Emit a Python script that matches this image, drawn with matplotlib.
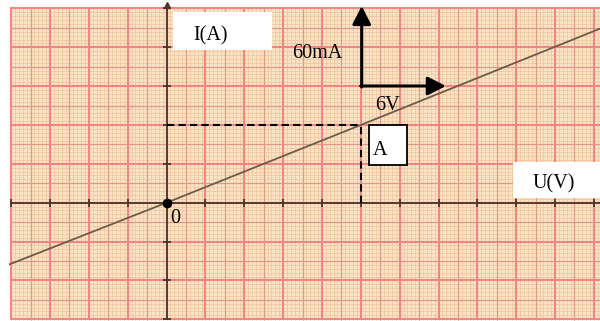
import matplotlib
matplotlib.use("Agg")
import matplotlib.pyplot as plt
import numpy as np
from matplotlib.patches import Rectangle
from matplotlib.transforms import Bbox, TransformedBbox

# scale: one big square = 3 V horizontally, 30 mA vertically
volt_per_div = 3.0
ma_per_div = 30.0

# characteristic (passes through the origin and A)
line_u = [-12.1, 0.0, 15.0, 33.5]
line_i = [-47.5, 0.0, 60.0, 134.5]

# point A and the scale arrows
point_a = (15.0, 60.0)
scale_u = 6.0
scale_i = 60.0
arrow_origin = (15.07, 90.1)

# paper extents (in V and mA)
paper_u = (-12.1, 33.6)
paper_i = (-90.6, 150.0)

fig = plt.figure(figsize=(6.0, 3.21), dpi=100)
ax = fig.add_axes([0, 0, 1, 1])
ax.set_xlim(-12.86, 33.47)
ax.set_ylim(-91.35, 156.5)
ax.axis('off')

bg = '#fbe3c6'
ax.add_patch(Rectangle((paper_u[0], paper_i[0]), paper_u[1] - paper_u[0],
                       paper_i[1] - paper_i[0], facecolor=bg, edgecolor='none', zorder=0))

# millimetre grid: fine, half and major lines
u0 = -4 * volt_per_div
i0 = -3 * ma_per_div
fine_u = np.arange(u0, paper_u[1] + 0.01, volt_per_div / 10)
fine_i = np.arange(i0, paper_i[1] + 0.01, ma_per_div / 10)
ax.vlines(fine_u, paper_i[0], paper_i[1], color='#f0c8a2', lw=0.6, zorder=1)
ax.hlines(fine_i, paper_u[0], paper_u[1], color='#f0c8a2', lw=0.6, zorder=1)
half_u = np.arange(u0 + volt_per_div / 2, paper_u[1], volt_per_div)
half_i = np.arange(i0 + ma_per_div / 2, paper_i[1], ma_per_div)
ax.vlines(half_u, paper_i[0], paper_i[1], color='#dc9a8c', lw=0.9, zorder=2)
ax.hlines(half_i, paper_u[0], paper_u[1], color='#dc9a8c', lw=0.9, zorder=2)
major_u = np.arange(u0, paper_u[1] + 0.01, volt_per_div)
major_i = np.arange(i0, paper_i[1] + 0.01, ma_per_div)
ax.vlines(major_u, paper_i[0], paper_i[1], color='#f58484', lw=1.5, zorder=3)
ax.hlines(major_i, paper_u[0], paper_u[1], color='#f58484', lw=1.5, zorder=3)

# axes of the graph
axis_col = '#4e3526'
ax.hlines(0, paper_u[0], paper_u[1], color=axis_col, lw=1.3, zorder=4)
ax.vlines(0, paper_i[0], paper_i[1] + 2.5, color=axis_col, lw=1.3, zorder=4)
ax.plot(0, paper_i[1] + 2.5, marker='^', ms=4, color=axis_col, zorder=4)
ax.plot(major_u, np.zeros_like(major_u), ls='none', marker='|', ms=6, color=axis_col, mew=1.3, zorder=4)
ax.plot(np.zeros_like(major_i), major_i, ls='none', marker='_', ms=6, color=axis_col, mew=1.3, zorder=4)

# characteristic
ax.plot(line_u, line_i, color='#6b5c48', lw=1.3, zorder=5)
ax.plot(0, 0, 'o', color='black', ms=6, zorder=6)

# projections of A
ax.plot([0, point_a[0]], [point_a[1], point_a[1]], ls=(0, (3.5, 2)), color='black', lw=1.5, zorder=5)
ax.plot([point_a[0], point_a[0]], [0, point_a[1]], ls=(0, (3.5, 2)), color='black', lw=1.5, zorder=5)

# scale arrows
head = dict(arrowstyle='-|>,head_length=0.55,head_width=0.28', color='black', lw=2.2,
            shrinkA=0, shrinkB=0, mutation_scale=20)
ax.annotate('', xy=(arrow_origin[0], arrow_origin[1] + scale_i + 1.8), xytext=(arrow_origin[0], arrow_origin[1] - 0.8),
            arrowprops=head, zorder=7, annotation_clip=False)
ax.annotate('', xy=(arrow_origin[0] + scale_u + 0.5, arrow_origin[1]), xytext=(arrow_origin[0] - 0.08, arrow_origin[1]),
            arrowprops=head, zorder=7)

serif = ['Liberation Serif', 'DejaVu Serif']
fs = 14.5
ax.text(9.67, 111.5, '60mA', family=serif, fontsize=fs, ha='left', va='baseline', zorder=8)
ax.text(16.1, 71.6, '6V', family=serif, fontsize=fs, ha='left', va='baseline', zorder=8)

# white label boxes (the axis names are cut off at their lower edge)
ax.add_patch(Rectangle((0.5, 117.9), 7.65, 29.5, facecolor='white', edgecolor='none', zorder=8))
t_i = ax.text(2.05, 125.3, 'I(A)', family=serif, fontsize=fs, ha='left', va='baseline', zorder=9)
t_i.set_clip_box(TransformedBbox(Bbox([[0.5, 124.0], [8.15, 150.0]]), ax.transData))
ax.add_patch(Rectangle((26.76, 3.8), 6.8, 28.0, facecolor='white', edgecolor='none', zorder=8))
t_u = ax.text(28.3, 11.0, 'U(V)', family=serif, fontsize=fs, ha='left', va='baseline', zorder=9)
t_u.set_clip_box(TransformedBbox(Bbox([[26.76, 10.6], [33.56, 31.8]]), ax.transData))
ax.add_patch(Rectangle((15.6, 29.0), 2.95, 31.0, facecolor='white', edgecolor='black', lw=1.3, zorder=8))
ax.text(15.9, 36.8, 'A', family=serif, fontsize=fs, ha='left', va='baseline', zorder=9)
ax.text(0.27, -15.7, '0', family=serif, fontsize=fs, ha='left', va='baseline', zorder=9)

fig.savefig('out.png', dpi=100)
